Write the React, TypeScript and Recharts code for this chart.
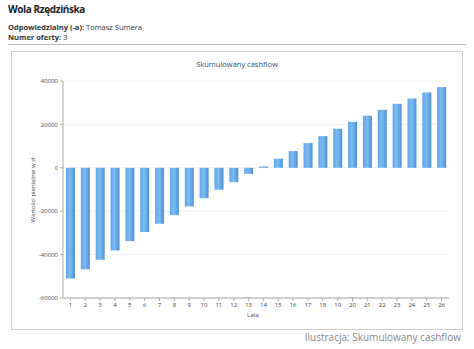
import React from 'react';
import { BarChart, Bar, XAxis, YAxis, CartesianGrid } from 'recharts';

const years = [1, 2, 3, 4, 5, 6, 7, 8, 9, 10, 11, 12, 13, 14, 15, 16, 17, 18, 19, 20, 21, 22, 23, 24, 25, 26];
const cashflow = [
  -51000, -46700, -42400, -38100, -33800, -29600, -25800, -21800, -17800, -14000, -10100, -6600, -2800,
  600, 4200, 7700, 11400, 14600, 18000, 21200, 24000, 26700, 29500, 31900, 34700, 37200,
];
const yTicks = [-60000, -40000, -20000, 0, 20000, 40000];

const data = years.map((y, i) => ({ year: y, value: cashflow[i] }));

const font = '"Open Sans", "Noto Sans", sans-serif';

export default function App() {
  return (
    <div style={{ position: 'absolute', left: 0, top: 0, width: 474, height: 349, background: '#fff', fontFamily: font, overflow: 'hidden' }}>
      <div style={{ position: 'absolute', left: 8, top: 2, fontSize: 10, fontWeight: 700, letterSpacing: -0.4, color: '#222' }}>Wola Rzędzińska</div>
      <div style={{ position: 'absolute', left: 8, top: 22, fontSize: 7.5, color: '#333' }}>
        <b>Odpowiedzialny (-a):</b> Tomasz Sumera
      </div>
      <div style={{ position: 'absolute', left: 8, top: 32, fontSize: 7.5, color: '#333' }}>
        <b>Numer oferty:</b> 3
      </div>
      <div style={{ position: 'absolute', left: 8, top: 44, width: 458, height: 1, background: '#bbb' }} />

      <div style={{ position: 'absolute', left: 11, top: 51, width: 450, height: 277, border: '1px solid #cfcfcf' }} />
      <div style={{ position: 'absolute', left: 11, top: 59, width: 452, textAlign: 'center', fontSize: 7.5, color: '#2d4f7a' }}>Skumulowany cashflow</div>
      <div style={{ position: 'absolute', left: 33, top: 190, transform: 'translate(-50%, -50%) rotate(-90deg)', fontSize: 6, color: '#444', whiteSpace: 'nowrap' }}>Wartości pieniężne w zł</div>
      <div style={{ position: 'absolute', left: 247, top: 311, fontSize: 6, color: '#444' }}>Lata</div>

      <div style={{ position: 'absolute', left: 11, top: 51 }}>
        <BarChart width={451} height={278} data={data} margin={{ top: 30, right: 13, left: 0, bottom: 0 }}>
          <defs>
            <linearGradient id="barGrad" x1="0" y1="0" x2="1" y2="0">
              <stop offset="0%" stopColor="#5ea6e8" />
              <stop offset="45%" stopColor="#7dbcf1" />
              <stop offset="100%" stopColor="#4b8fd8" />
            </linearGradient>
          </defs>
          <CartesianGrid horizontal vertical={false} stroke="#f0f0f0" />
          <XAxis
            dataKey="year"
            height={31}
            interval={0}
            tick={{ fontSize: 6, fill: '#444', fontFamily: font }}
            tickLine={{ stroke: '#aaa' }}
            tickSize={3}
            axisLine={{ stroke: '#aaa' }}
          />
          <YAxis
            width={52}
            domain={[-60000, 40000]}
            ticks={yTicks}
            interval={0}
            tick={{ fontSize: 6, fill: '#444', fontFamily: font }}
            tickLine={{ stroke: '#aaa' }}
            tickSize={3}
            axisLine={{ stroke: '#aaa' }}
          />
          <Bar dataKey="value" fill="url(#barGrad)" barSize={9} isAnimationActive={false} />
        </BarChart>
      </div>

      <div style={{ position: 'absolute', right: 13, top: 330, fontSize: 10, color: '#888' }}>Ilustracja: Skumulowany cashflow</div>
    </div>
  );
}
